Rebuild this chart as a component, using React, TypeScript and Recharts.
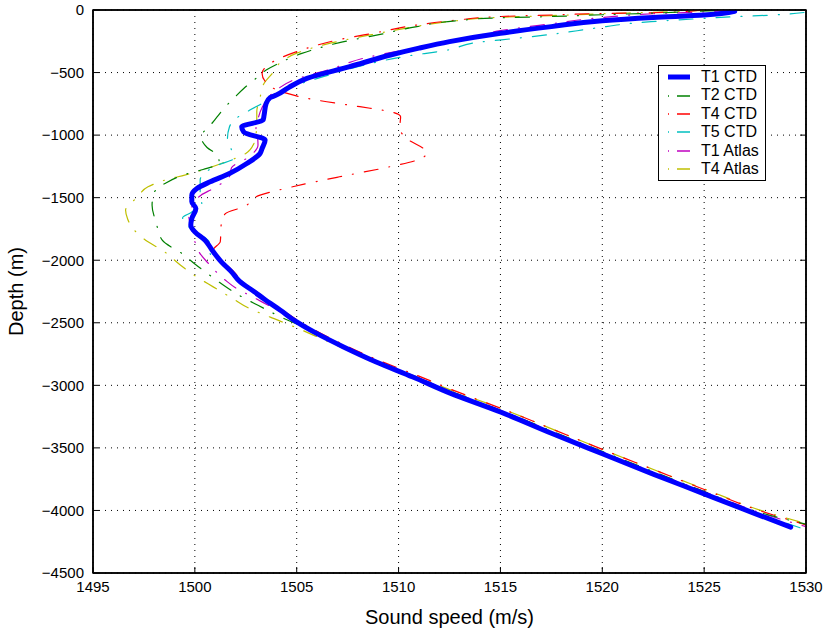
import React from 'react';
import { LineChart, Line, XAxis, YAxis, CartesianGrid, Legend, ReferenceArea } from 'recharts';

type Pt = { s: number; d: number };

// sound speed (m/s), depth (m) pairs per profile
const t1Ctd: [number, number][] = [
  [1526.5, -10], [1525, -40], [1522.5, -60], [1520, -85], [1517.5, -133], [1515, -186],
  [1512.5, -253], [1511, -305], [1509.6, -360], [1507.6, -453], [1505.5, -547], [1504.6, -620],
  [1504.0, -680], [1503.7, -700], [1503.5, -747], [1503.4, -840], [1503.35, -880], [1502.3, -933],
  [1502.4, -975], [1503.45, -1040], [1503.3, -1107], [1503.2, -1147], [1502.55, -1227],
  [1501.7, -1307], [1500.75, -1373], [1500.1, -1427], [1499.85, -1480], [1499.85, -1533],
  [1500.05, -1587], [1499.85, -1667], [1499.8, -1720], [1500.0, -1773], [1500.5, -1840],
  [1500.85, -1920], [1501.3, -2013], [1501.8, -2093], [1502.2, -2170], [1502.9, -2250],
  [1503.4, -2310], [1504.2, -2400], [1505.0, -2493], [1506.0, -2587], [1507.3, -2693],
  [1508.9, -2813], [1510.7, -2933], [1512.5, -3060], [1515, -3213], [1517.5, -3383],
  [1520, -3547], [1522.5, -3710], [1525, -3867], [1527.5, -4025], [1529.25, -4133],
];

const t2Ctd: [number, number][] = [
  [1525.5, -5], [1522.5, -25], [1520, -38], [1517.5, -52], [1515, -62], [1512.9, -85],
  [1510.9, -133], [1509.1, -195], [1507.1, -261], [1505.25, -347], [1504.2, -420], [1503.5, -480],
  [1502.9, -560], [1502.4, -627], [1501.9, -707], [1501.5, -773], [1501.1, -853], [1500.7, -933],
  [1500.3, -1008], [1500.6, -1099], [1501.1, -1160], [1501.2, -1225], [1500.4, -1275],
  [1499.6, -1310], [1498.6, -1380], [1498.0, -1460], [1497.9, -1560], [1498.1, -1700],
  [1498.4, -1840], [1499.4, -1950], [1500.0, -2030], [1500.9, -2140], [1501.5, -2210],
  [1502.5, -2310], [1503.1, -2360], [1504.3, -2460], [1505.0, -2510], [1506.1, -2600],
  [1507.4, -2700], [1509.0, -2815], [1510.8, -2930], [1512.6, -3050], [1515.1, -3205],
  [1517.6, -3370], [1520.1, -3535], [1522.6, -3695], [1525.1, -3855], [1527.6, -4010],
  [1530, -4110],
];

const t4Ctd: [number, number][] = [
  [1524.8, -2], [1522.5, -22], [1520, -28], [1517.5, -40], [1515, -52], [1512.9, -80],
  [1510.9, -120], [1508.9, -181], [1507, -240], [1505, -333], [1503.7, -427], [1503.3, -507],
  [1503.5, -580], [1504.2, -650], [1505.8, -715], [1508.1, -773], [1509.6, -813], [1510.1, -853],
  [1510.05, -947], [1510.4, -1027], [1511.4, -1141], [1510.9, -1200], [1509.4, -1259],
  [1507.1, -1333], [1504.8, -1413], [1503.2, -1480], [1502.4, -1573], [1501.5, -1627],
  [1501.3, -1700], [1501.25, -1850], [1500.9, -1920], [1501.3, -2000], [1501.9, -2090],
  [1502.4, -2180], [1503.1, -2260], [1503.6, -2320], [1504.4, -2410], [1505.2, -2495],
  [1506.2, -2585], [1507.5, -2690], [1509.1, -2805], [1510.9, -2920], [1512.7, -3040],
  [1515.2, -3195], [1517.7, -3360], [1520.2, -3525], [1522.7, -3685], [1525.2, -3845],
  [1527.7, -4000], [1530, -4115],
];

const t5Ctd: [number, number][] = [
  [1529.9, -20], [1528.4, -40], [1526.6, -53], [1525, -67], [1522.4, -93], [1519.6, -146],
  [1517.9, -186], [1515.8, -226], [1514, -256], [1512.4, -320], [1510.25, -373], [1508, -453],
  [1506.3, -533], [1504.7, -619], [1503.9, -690], [1503.3, -747], [1502.7, -800], [1502.0, -870],
  [1501.7, -933], [1501.6, -1027], [1501.8, -1120], [1501.9, -1187], [1501.2, -1235],
  [1500.5, -1300], [1500.26, -1360], [1500.26, -1493], [1500.34, -1547], [1499.8, -1620],
  [1499.4, -1660], [1499.8, -1747], [1500.3, -1800], [1500.7, -1853], [1500.75, -1947],
  [1501.4, -2020], [1501.9, -2100], [1502.3, -2180], [1503.0, -2260], [1503.5, -2320],
  [1504.3, -2410], [1505.1, -2495], [1506.1, -2590], [1507.4, -2695], [1509.0, -2815],
  [1510.8, -2935], [1512.6, -3060], [1515.1, -3215], [1517.6, -3385], [1520.1, -3550],
  [1522.6, -3710], [1525.1, -3865], [1527.6, -4020], [1530, -4155],
];

const t1Atlas: [number, number][] = [
  [1526.2, -3], [1525, -15], [1522.5, -30], [1520, -60], [1517.5, -110], [1515, -165],
  [1513.7, -213], [1512.2, -267], [1510.25, -320], [1508.45, -379], [1506.6, -475],
  [1504.84, -560], [1504.0, -640], [1503.6, -700], [1503.3, -780], [1503.1, -870],
  [1503.0, -950], [1503.05, -987], [1503.1, -1080], [1502.6, -1180], [1501.8, -1260],
  [1501.7, -1330], [1500.9, -1427], [1500.3, -1480], [1499.9, -1560], [1499.7, -1640],
  [1499.8, -1733], [1500.0, -1850], [1500.2, -1933], [1500.67, -2027], [1501.5, -2160],
  [1502.06, -2227], [1502.8, -2290], [1503.6, -2360], [1504.4, -2430], [1505.1, -2500],
  [1506.1, -2590], [1507.4, -2695], [1509.0, -2812], [1510.8, -2930], [1512.6, -3050],
  [1515.1, -3205], [1517.6, -3375], [1520.1, -3540], [1522.6, -3700], [1525.1, -3855],
  [1527.6, -4010], [1530, -4130],
];

const t4Atlas: [number, number][] = [
  [1525, -3], [1522.5, -18], [1520, -30], [1517.5, -45], [1515, -58], [1512.9, -85],
  [1510.9, -130], [1508.9, -190], [1506.6, -267], [1505, -345], [1504.2, -420], [1503.8, -507],
  [1503.4, -585], [1503.2, -700], [1503.04, -813], [1503.04, -880], [1503.0, -1000],
  [1502.9, -1067], [1502.5, -1147], [1501.3, -1227], [1500.6, -1267], [1499.5, -1320],
  [1498.8, -1347], [1497.7, -1413], [1497.2, -1493], [1496.6, -1600], [1496.7, -1670],
  [1496.9, -1733], [1497.7, -1853], [1498.4, -1920], [1499.3, -2040], [1499.85, -2107],
  [1500.9, -2213], [1501.8, -2300], [1502.7, -2387], [1503.7, -2455], [1504.7, -2520],
  [1505.9, -2605], [1507.3, -2705], [1508.9, -2818], [1510.8, -2925], [1512.6, -3040],
  [1515.2, -3195], [1517.7, -3360], [1520.2, -3525], [1522.7, -3685], [1525.2, -3840],
  [1527.7, -3995], [1530, -4105],
];

const speedTicks = [1495, 1500, 1505, 1510, 1515, 1520, 1525, 1530];
const depthTicks = [0, -500, -1000, -1500, -2000, -2500, -3000, -3500, -4000, -4500];

const toPts = (rows: [number, number][]): Pt[] => rows.map(([s, d]) => ({ s, d }));

const DASH_DOT = '14 11 1 11';

const series = [
  { name: 'T1 CTD', color: '#0000ff', width: 5, dash: undefined, data: toPts(t1Ctd) },
  { name: 'T2 CTD', color: '#008000', width: 1.2, dash: DASH_DOT, data: toPts(t2Ctd) },
  { name: 'T4 CTD', color: '#ff0000', width: 1.2, dash: DASH_DOT, data: toPts(t4Ctd) },
  { name: 'T5 CTD', color: '#00bfbf', width: 1.2, dash: DASH_DOT, data: toPts(t5Ctd) },
  { name: 'T1 Atlas', color: '#bf00bf', width: 1.2, dash: DASH_DOT, data: toPts(t1Atlas) },
  { name: 'T4 Atlas', color: '#bfbf00', width: 1.2, dash: DASH_DOT, data: toPts(t4Atlas) },
];

const FONT = '"Liberation Sans", Arial, Helvetica, sans-serif';
const minus = (v: number) => String(v).replace('-', '\u2212');
const noLabel = () => <g />;
const frame = { stroke: '#000', strokeWidth: 1.5 };

const LegendBox = () => (
  <div
    style={{
      border: '1.5px solid #000',
      background: '#fff',
      padding: '2px 6px 2px 8px',
      fontFamily: FONT,
      fontSize: 16,
      lineHeight: '18.4px',
      color: '#000',
    }}
  >
    {series.map((s) => (
      <div key={s.name} style={{ display: 'flex', alignItems: 'center', whiteSpace: 'nowrap' }}>
        <svg width={34} height={12}>
          {s.dash ? (
            <>
              <line x1={1} y1={6} x2={2} y2={6} stroke={s.color} strokeWidth={1.5} />
              <line x1={10} y1={6} x2={23} y2={6} stroke={s.color} strokeWidth={1.5} />
            </>
          ) : (
            <line x1={1} y1={6} x2={23} y2={6} stroke={s.color} strokeWidth={5} />
          )}
        </svg>
        <span>{s.name}</span>
      </div>
    ))}
  </div>
);

export default function App() {
  return (
    <div style={{ position: 'absolute', left: 0, top: 0, fontFamily: FONT }}>
      <LineChart width={828} height={634} margin={{ top: 9, right: 21, bottom: 0, left: 13 }}>
        <CartesianGrid stroke="#000" strokeDasharray="1 5" strokeWidth={1} />
        <XAxis
          xAxisId={0}
          dataKey="s"
          type="number"
          domain={[1495, 1530]}
          ticks={speedTicks}
          allowDataOverflow
          height={61}
          axisLine={frame}
          tickLine={{ stroke: '#000' }}
          tickSize={-6}
          tickMargin={14}
          tick={{ fill: '#000', fontSize: 15, fontFamily: FONT }}
          label={{ value: 'Sound speed (m/s)', position: 'center', dy: 13, fontSize: 20, fill: '#000', fontFamily: FONT }}
        />
        <XAxis
          xAxisId="top"
          orientation="top"
          type="number"
          domain={[1495, 1530]}
          ticks={speedTicks}
          allowDataOverflow
          height={1}
          axisLine={frame}
          tickLine={{ stroke: '#000' }}
          tickSize={-6}
          tick={noLabel}
        />
        <YAxis
          yAxisId={0}
          type="number"
          domain={[-4500, 0]}
          ticks={depthTicks}
          allowDataOverflow
          width={80}
          axisLine={frame}
          tickLine={{ stroke: '#000' }}
          tickSize={-6}
          tickMargin={15}
          tickFormatter={minus}
          tick={{ fill: '#000', fontSize: 15, fontFamily: FONT }}
          label={{ value: 'Depth (m)', angle: -90, position: 'center', dx: -37, fontSize: 20, fill: '#000', fontFamily: FONT }}
        />
        <YAxis
          yAxisId="right"
          orientation="right"
          type="number"
          domain={[-4500, 0]}
          ticks={depthTicks}
          allowDataOverflow
          width={1}
          axisLine={frame}
          tickLine={{ stroke: '#000' }}
          tickSize={-6}
          tick={noLabel}
        />
        {series
          .slice()
          .reverse()
          .map((s) => (
            <Line
              key={s.name}
              name={s.name}
              data={s.data}
              dataKey="d"
              type="monotoneY"
              stroke={s.color}
              strokeWidth={s.width}
              strokeDasharray={s.dash}
              strokeLinecap="round"
              dot={false}
              activeDot={false}
              isAnimationActive={false}
            />
          ))}
        {/* plot box */}
        <ReferenceArea
          x1={1495}
          x2={1530}
          y1={-4500}
          y2={0}
          fill="none"
          stroke="#000"
          strokeWidth={1.5}
          ifOverflow="visible"
        />
        <Legend
          layout="vertical"
          align="center"
          verticalAlign="middle"
          content={LegendBox}
          wrapperStyle={{ position: 'absolute', top: 65, left: 658, width: 'auto' }}
        />
      </LineChart>
    </div>
  );
}
